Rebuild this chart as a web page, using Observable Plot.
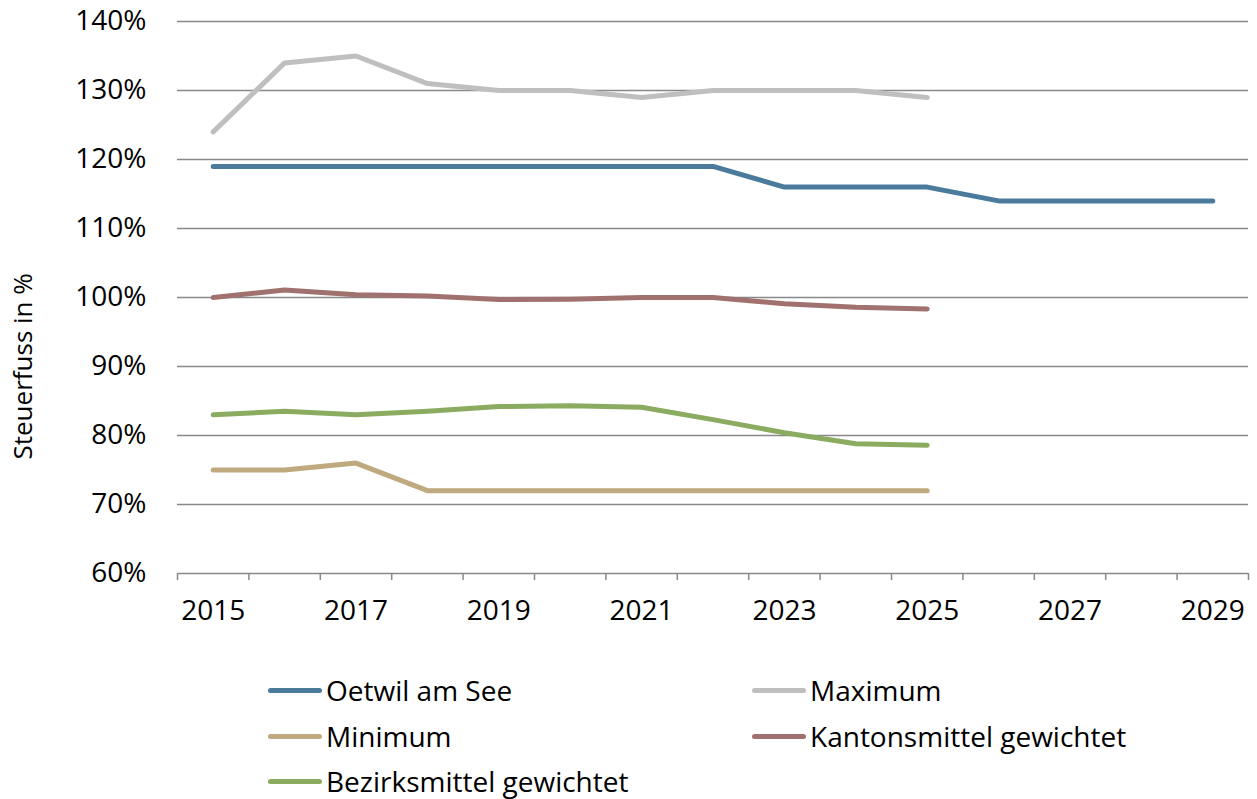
<!DOCTYPE html>
<html>
<head>
<meta charset="utf-8">
<script src="https://cdn.jsdelivr.net/npm/d3@7"></script>
<script src="https://cdn.jsdelivr.net/npm/@observablehq/plot@0.6"></script>
<style>
  body { margin: 0; background: #fff; font-family: "Open Sans", sans-serif; }
  #wrap { position: relative; width: 1257px; height: 799px; }
  .leg { position: absolute; display: flex; align-items: center; font-size: 28px; color: #000; white-space: nowrap; }
  .sw { width: 54px; height: 5px; border-radius: 3px; margin-right: 4px; }
</style>
</head>
<body>
<div id="wrap"><div id="chart"></div></div>
<script>
const years = [2015,2016,2017,2018,2019,2020,2021,2022,2023,2024,2025,2026,2027,2028,2029];
const tickYears = [2015,2017,2019,2021,2023,2025,2027,2029];
const seriesNames = ["Oetwil am See","Maximum","Minimum","Kantonsmittel gewichtet","Bezirksmittel gewichtet"];
const oetwil = [119,119,119,119,119,119,119,119,116,116,116,114,114,114,114];
const maximum = [124,134,135,131,130,130,129,130,130,130,129,null,null,null,null];
const minimum = [75,75,76,72,72,72,72,72,72,72,72,null,null,null,null];
const kanton = [100,101.1,100.4,100.2,99.7,99.75,100,100,99.1,98.6,98.35,null,null,null,null];
const bezirk = [83,83.5,83,83.5,84.2,84.3,84.1,82.3,80.4,78.8,78.6,null,null,null,null];
const colors = ["#4A7A9C","#BFBFBF","#BFA97E","#A0716F","#8BAB61"];
const yTicks = [60,70,80,90,100,110,120,130,140];

const allSeries = [oetwil, maximum, minimum, kanton, bezirk];
const data = [];
allSeries.forEach((vals, si) => {
  vals.forEach((v, i) => data.push({series: seriesNames[si], year: years[i], value: v}));
});
const bounds = years.map(y => y - 0.5).concat([years[years.length-1] + 0.5]);

const chart = Plot.plot({
  width: 1257,
  height: 640,
  marginLeft: 177,
  marginRight: 9,
  marginTop: 21,
  marginBottom: 67,
  style: {fontFamily: "'Open Sans', sans-serif", fontSize: "28px", color: "#000", background: "#fff"},
  x: {domain: [2014.5, 2029.5]},
  y: {domain: [60, 140]},
  color: {domain: seriesNames, range: colors},
  marks: [
    Plot.ruleY(yTicks, {stroke: "#898989", strokeWidth: 1.5}),
    Plot.axisY({ticks: yTicks, tickSize: 0, tickPadding: 31, tickFormat: d => d + "%", label: null, fontSize: 28}),
    Plot.axisX({ticks: bounds, tickSize: 7, tickFormat: () => "", label: null, stroke: "#898989", strokeWidth: 1.5}),
    Plot.axisX({ticks: tickYears, tickSize: 0, tickPadding: 27, tickFormat: d => String(d), label: null, fontSize: 28}),
    Plot.line(data, {x: "year", y: "value", z: "series", stroke: "series", strokeWidth: 5, strokeLinecap: "round", strokeLinejoin: "round"}),
    Plot.text(["Steuerfuss in %"], {frameAnchor: "left", dx: -154, dy: 162, rotate: -90, fontSize: 26, fill: "#000"})
  ]
});
document.getElementById("chart").appendChild(chart);

const legendPos = [[268, 690],[752, 690],[268, 736],[752, 736],[268, 781]];
const wrap = document.getElementById("wrap");
seriesNames.forEach((name, i) => {
  const d = document.createElement("div");
  d.className = "leg";
  d.style.left = legendPos[i][0] + "px";
  d.style.top = (legendPos[i][1] - 18) + "px";
  d.style.height = "36px";
  const sw = document.createElement("div");
  sw.className = "sw";
  sw.style.background = colors[i];
  const t = document.createElement("span");
  t.textContent = name;
  d.appendChild(sw); d.appendChild(t);
  wrap.appendChild(d);
});
</script>
</body>
</html>
